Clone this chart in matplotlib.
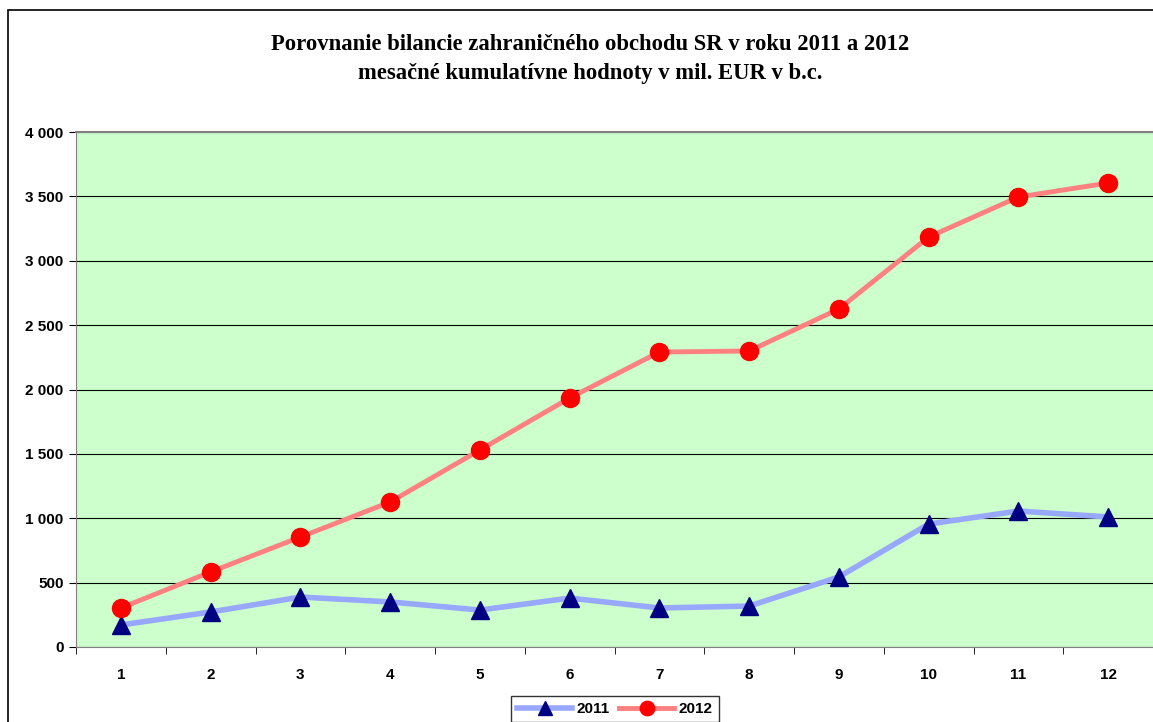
import matplotlib.pyplot as plt
from matplotlib.patches import Rectangle

# Mesiace a kumulatívne hodnoty bilancie (mil. EUR)
mesiace = [1, 2, 3, 4, 5, 6, 7, 8, 9, 10, 11, 12]
bilancia_2011 = [171, 272, 388, 350, 287, 380, 303, 318, 544, 955, 1056, 1010]
bilancia_2012 = [303, 583, 854, 1126, 1530, 1934, 2291, 2299, 2625, 3184, 3495, 3604]
y_ticks = [0, 500, 1000, 1500, 2000, 2500, 3000, 3500, 4000]
y_labels = ['0', '500', '1 000', '1 500', '2 000', '2 500', '3 000', '3 500', '4 000']

fig = plt.figure(figsize=(11.53, 7.22), dpi=100)
fig.patches.append(Rectangle((8 / 1153, -0.1), 1.2, 1 - 10 / 722 + 0.1,
                             transform=fig.transFigure, fill=False,
                             edgecolor='black', linewidth=1.2))

ax = fig.add_axes([76 / 1153, 1 - 647 / 722, 1 - 76 / 1153, (647 - 132) / 722])
ax.set_facecolor('#CCFFCC')

ax.plot(mesiace, bilancia_2011, color='#99A8FF', linewidth=4, marker='^',
        markersize=13, markerfacecolor='#000080', markeredgecolor='#000080',
        label='2011', zorder=3)
ax.plot(mesiace, bilancia_2012, color='#FF8080', linewidth=3.5, marker='o',
        markersize=13, markerfacecolor='#FF0000', markeredgecolor='#FF0000',
        label='2012', zorder=3)

ax.set_xlim(0.5, 12.5)
ax.set_ylim(0, 4000)
ax.set_yticks(y_ticks)
ax.set_yticklabels(y_labels, fontsize=11, fontweight='bold', family='Liberation Sans')
ax.set_xticks(mesiace)
ax.set_xticklabels([str(m) for m in mesiace], fontsize=11, fontweight='bold',
                   family='Liberation Sans')
ax.set_xticks([m + 0.5 for m in range(0, 13)], minor=True)
ax.tick_params(axis='x', which='major', length=0, pad=15)
ax.tick_params(axis='x', which='minor', length=5, direction='out', color='black')
ax.tick_params(axis='y', length=5, direction='out', pad=4)
ax.grid(axis='y', color='black', linewidth=0.8)
ax.set_axisbelow(True)

ax.spines['top'].set_color('#808080')
ax.spines['top'].set_linewidth(1.5)
ax.spines['right'].set_visible(False)
ax.spines['left'].set_color('#808080')
ax.spines['bottom'].set_color('#808080')

fig.text(590 / 1153, 1 - 45 / 722,
         'Porovnanie bilancie zahraničného obchodu SR v roku 2011 a 2012',
         ha='center', va='center', fontsize=16.3, fontweight='bold', family='Liberation Serif')
fig.text(590 / 1153, 1 - 74 / 722,
         'mesačné kumulatívne hodnoty v mil. EUR v b.c.',
         ha='center', va='center', fontsize=16.3, fontweight='bold', family='Liberation Serif')

leg = fig.legend(loc='upper center', bbox_to_anchor=(615 / 1153, 1 - 696 / 722), ncol=2,
                 frameon=True, fancybox=False, edgecolor='black', handlelength=3.6,
                 columnspacing=0.6, handletextpad=0.3, borderaxespad=0, markerscale=0.8,
                 prop={'family': 'Liberation Sans', 'weight': 'bold', 'size': 11})
leg.get_frame().set_linewidth(1.0)

fig.savefig('out.png', dpi=100)
